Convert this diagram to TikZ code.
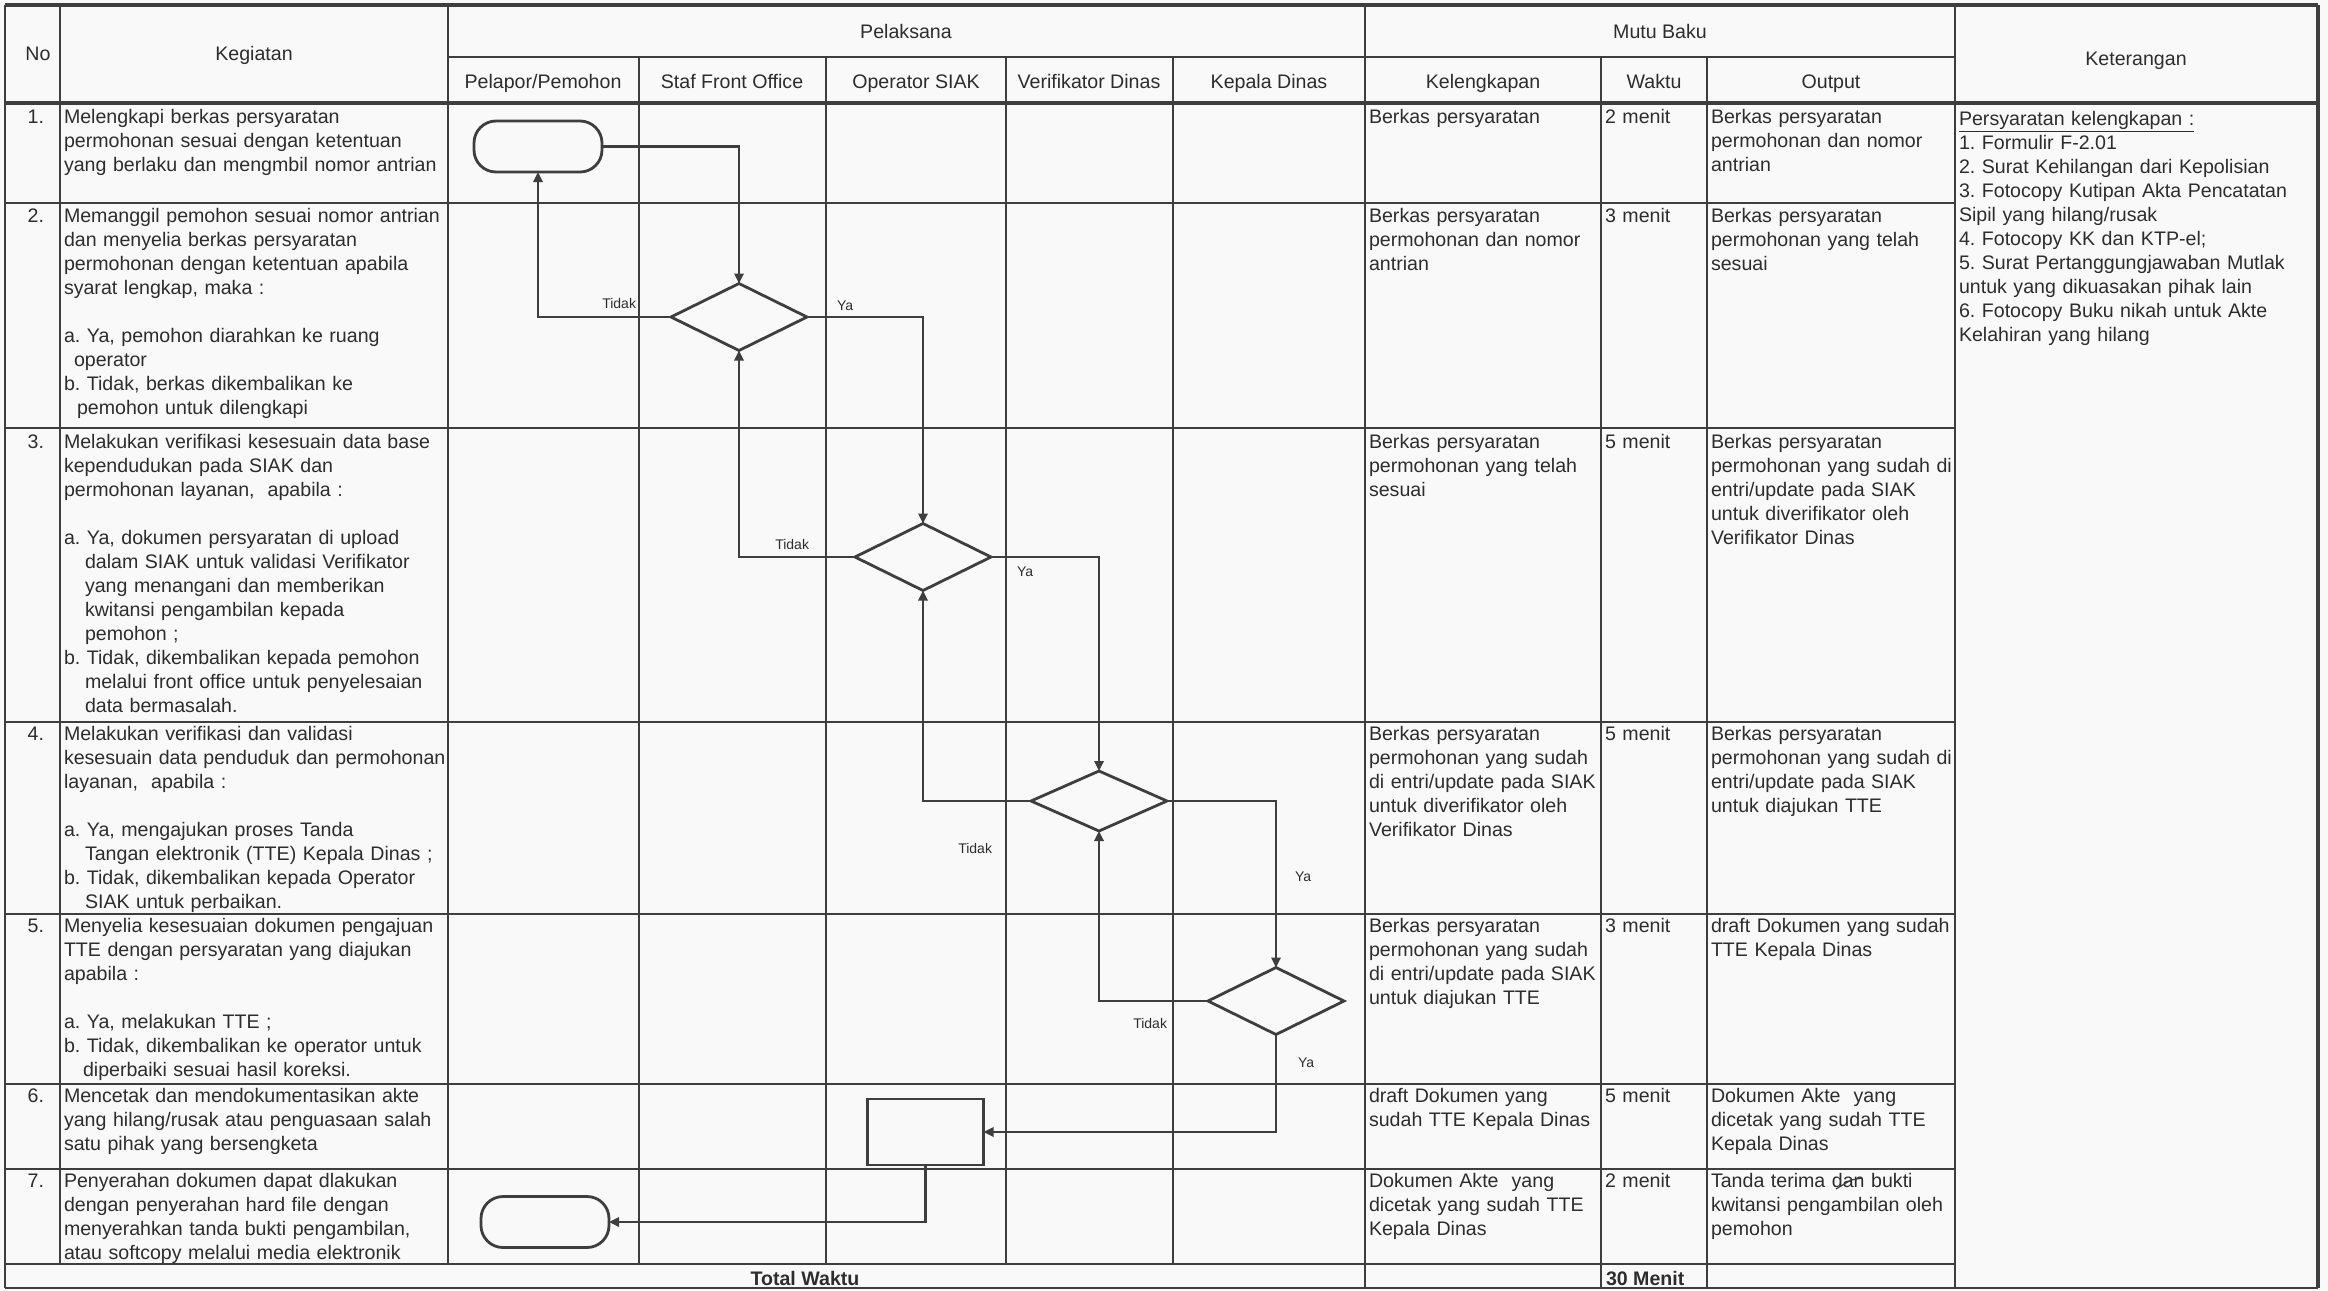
\documentclass[tikz,border=0pt]{standalone}
\usepackage{fontspec}
\setmainfont{Liberation Sans}
\usetikzlibrary{arrows.meta,shapes.geometric}
\definecolor{ink}{RGB}{62,62,62}
\definecolor{txt}{RGB}{45,45,45}
\definecolor{paper}{RGB}{249,249,249}
\frenchspacing
\begin{document}
\frenchspacing
\begin{tikzpicture}[x=0.5pt,y=-0.5pt,
  every node/.style={inner sep=0pt,outer sep=0pt,text=txt},
  thinrule/.style={draw=ink,line width=1pt},
  heavyrule/.style={draw=ink,line width=1.8pt},
  body/.style={font=\fontsize{9.8}{12}\selectfont\frenchspacing},
  cell/.style={body,anchor=base west,align=left,text width=#1},
  num/.style={body,anchor=base east},
  head/.style={body,anchor=base},
  flowline/.style={draw=ink,line width=1.4pt},
  arr/.style={flowline,-{Triangle[length=5pt,width=4.6pt]}},
  term/.style={draw=ink,line width=1.4pt,rectangle,rounded corners=11pt,minimum width=64pt,minimum height=25.5pt},
  dec/.style={draw=ink,line width=1.4pt,diamond,minimum width=68pt,minimum height=33.5pt},
  proc/.style={draw=ink,line width=1.4pt,rectangle,minimum width=58pt,minimum height=33pt},
  lbl/.style={font=\fontsize{7}{8}\selectfont}
]
\fill[paper] (0,0) rectangle (2328,1290);
\useasboundingbox (0,0) rectangle (2328,1290);

% ---------- table rules ----------
\draw[heavyrule] (5,5) -- (2318,5);
\draw[thinrule] (448,57) -- (1955,57);
\draw[heavyrule] (5,103) -- (2318,103);
\foreach \r in {203,428,722,914,1084,1169,1264} \draw[thinrule] (5,\r) -- (1955,\r);
\draw[thinrule] (5,1288) -- (2318,1288);
\draw[thinrule] (5,5) -- (5,1288);
\foreach \c in {60,448} \draw[thinrule] (\c,5) -- (\c,1264);
\foreach \c in {639,826,1006,1173} \draw[thinrule] (\c,57) -- (\c,1264);
\draw[thinrule] (1365,5) -- (1365,1288);
\foreach \c in {1601,1707} \draw[thinrule] (\c,57) -- (\c,1288);
\draw[thinrule] (1955,5) -- (1955,1288);
\draw[heavyrule] (2318,5) -- (2318,1288);

% ---------- headers ----------
\node[head] (hNo) at (38,60) {No};
\node[head] (hKeg) at (254,60) {Kegiatan};
\node[head] (hPel) at (906,38) {Pelaksana};
\node[head] (hMutu) at (1660,38) {Mutu Baku};
\node[head] (hKet) at (2136,65) {Keterangan};
\node[head] (hA) at (543,88) {Pelapor/Pemohon};
\node[head] (hB) at (732,88) {Staf Front Office};
\node[head] (hC) at (916,88) {Operator SIAK};
\node[head] (hD) at (1089,88) {Verifikator Dinas};
\node[head] (hE) at (1269,88) {Kepala Dinas};
\node[head] (hF) at (1483,88) {Kelengkapan};
\node[head] (hG) at (1654,88) {Waktu};
\node[head] (hH) at (1831,88) {Output};

% ---------- numbers ----------
\node[num] (n1) at (44,123) {1.};
\node[num] (n2) at (44,222) {2.};
\node[num] (n3) at (44,448) {3.};
\node[num] (n4) at (44,740) {4.};
\node[num] (n5) at (44,932) {5.};
\node[num] (n6) at (44,1102) {6.};
\node[num] (n7) at (44,1187) {7.};

% ---------- kegiatan ----------
\node[cell=205pt] (k1) at (64,123) {Melengkapi berkas persyaratan\\
permohonan sesuai dengan ketentuan\\
yang berlaku dan mengmbil nomor antrian};
\node[cell=205pt] (k2) at (64,222) {Memanggil pemohon sesuai nomor antrian\\
dan menyelia berkas persyaratan\\
permohonan dengan ketentuan apabila\\
syarat lengkap, maka :\\[12pt]
a. Ya, pemohon diarahkan ke ruang\\
\hspace*{5pt}operator\\
b. Tidak, berkas dikembalikan ke\\
\hspace*{6.5pt}pemohon untuk dilengkapi};
\node[cell=205pt] (k3) at (64,448) {Melakukan verifikasi kesesuain data base\\
kependudukan pada SIAK dan\\
permohonan layanan,\ \ apabila :\\[12pt]
a. Ya, dokumen persyaratan di upload\\
\hspace*{10.5pt}dalam SIAK untuk validasi Verifikator\\
\hspace*{10.5pt}yang menangani dan memberikan\\
\hspace*{10.5pt}kwitansi pengambilan kepada\\
\hspace*{10.5pt}pemohon ;\\
b. Tidak, dikembalikan kepada pemohon\\
\hspace*{10.5pt}melalui front office untuk penyelesaian\\
\hspace*{10.5pt}data bermasalah.};
\node[cell=205pt] (k4) at (64,740) {Melakukan verifikasi dan validasi\\
kesesuain data penduduk dan permohonan\\
layanan,\ \ apabila :\\[12pt]
a. Ya, mengajukan proses Tanda\\
\hspace*{10.5pt}Tangan elektronik (TTE) Kepala Dinas ;\\
b. Tidak, dikembalikan kepada Operator\\
\hspace*{10.5pt}SIAK untuk perbaikan.};
\node[cell=205pt] (k5) at (64,932) {Menyelia kesesuaian dokumen pengajuan\\
TTE dengan persyaratan yang diajukan\\
apabila :\\[12pt]
a. Ya, melakukan TTE ;\\
b. Tidak, dikembalikan ke operator untuk\\
\hspace*{9.5pt}diperbaiki sesuai hasil koreksi.};
\node[cell=205pt] (k6) at (64,1102) {Mencetak dan mendokumentasikan akte\\
yang hilang/rusak atau penguasaan salah\\
satu pihak yang bersengketa};
\node[cell=205pt] (k7) at (64,1187) {Penyerahan dokumen dapat dlakukan\\
dengan penyerahan hard file dengan\\
menyerahkan tanda bukti pengambilan,\\
atau softcopy melalui media elektronik};

% ---------- kelengkapan ----------
\node[cell=130pt] (kl1) at (1369,123) {Berkas persyaratan};
\node[cell=130pt] (kl2) at (1369,222) {Berkas persyaratan\\permohonan dan nomor\\antrian};
\node[cell=130pt] (kl3) at (1369,448) {Berkas persyaratan\\permohonan yang telah\\sesuai};
\node[cell=130pt] (kl4) at (1369,740) {Berkas persyaratan\\permohonan yang sudah\\di entri/update pada SIAK\\untuk diverifikator oleh\\Verifikator Dinas};
\node[cell=130pt] (kl5) at (1369,932) {Berkas persyaratan\\permohonan yang sudah\\di entri/update pada SIAK\\untuk diajukan TTE};
\node[cell=130pt] (kl6) at (1369,1102) {draft Dokumen yang\\sudah TTE Kepala Dinas};
\node[cell=130pt] (kl7) at (1369,1187) {Dokumen Akte\ \ yang\\dicetak yang sudah TTE\\Kepala Dinas};

% ---------- waktu ----------
\node[cell=48pt] (w1) at (1605,123) {2 menit};
\node[cell=48pt] (w2) at (1605,222) {3 menit};
\node[cell=48pt] (w3) at (1605,448) {5 menit};
\node[cell=48pt] (w4) at (1605,740) {5 menit};
\node[cell=48pt] (w5) at (1605,932) {3 menit};
\node[cell=48pt] (w6) at (1605,1102) {5 menit};
\node[cell=48pt] (w7) at (1605,1187) {2 menit};

% ---------- output ----------
\node[cell=135pt] (o1) at (1711,123) {Berkas persyaratan\\permohonan dan nomor\\antrian};
\node[cell=135pt] (o2) at (1711,222) {Berkas persyaratan\\permohonan yang telah\\sesuai};
\node[cell=135pt] (o3) at (1711,448) {Berkas persyaratan\\permohonan yang sudah di\\entri/update pada SIAK\\untuk diverifikator oleh\\Verifikator Dinas};
\node[cell=135pt] (o4) at (1711,740) {Berkas persyaratan\\permohonan yang sudah di\\entri/update pada SIAK\\untuk diajukan TTE};
\node[cell=135pt] (o5) at (1711,932) {draft Dokumen yang sudah\\TTE Kepala Dinas};
\node[cell=135pt] (o6) at (1711,1102) {Dokumen Akte\ \ yang\\dicetak yang sudah TTE\\Kepala Dinas};
\node[cell=135pt] (o7) at (1711,1187) {Tanda terima dan bukti\\kwitansi pengambilan oleh\\pemohon};
\draw[ink,line width=0.6pt] (1836,1189) -- (1851,1180) -- (1862,1178);

% ---------- keterangan ----------
\node[cell=178pt] (ket) at (1959,125) {\underline{Persyaratan kelengkapan :}\\
1. Formulir F-2.01\\
2. Surat Kehilangan dari Kepolisian\\
3. Fotocopy Kutipan Akta Pencatatan\\
Sipil yang hilang/rusak\\
4. Fotocopy KK dan KTP-el;\\
5. Surat Pertanggungjawaban Mutlak\\
untuk yang dikuasakan pihak lain\\
6. Fotocopy Buku nikah untuk Akte\\
Kelahiran yang hilang};

% ---------- total ----------
\node[body,font=\fontsize{9.8}{12}\selectfont\bfseries,anchor=base] (tot) at (805,1285) {Total Waktu};
\node[body,font=\fontsize{9.8}{12}\selectfont\bfseries,anchor=base west] (totw) at (1606,1285) {30 Menit};

% ---------- flowchart ----------
\node[term] (T1) at (538,146.5) {};
\node[dec] (D1) at (739,317) {};
\node[dec] (D2) at (923,557) {};
\node[dec,minimum height=30pt] (D3) at (1099,801) {};
\node[dec] (D4) at (1276,1001) {};
\node[proc] (P) at (925.5,1132) {};
\node[term] (T2) at (545,1222) {};

\draw[arr] (T1.east) -| (D1.north);
\draw[arr] (D1.west) -| (T1.south);
\draw[arr] (D1.east) -| (D2.north);
\draw[arr] (D2.west) -| (D1.south);
\draw[arr] (D2.east) -| (D3.north);
\draw[arr] (D3.west) -| (D2.south);
\draw[arr] (D3.east) -| (D4.north);
\draw[arr] (D4.west) -| (D3.south);
\draw[arr] (D4.south) |- (P.east);
\draw[arr] (P.south) |- (T2.east);

\node[lbl,anchor=east] (lt1) at (636,303) {Tidak};
\node[lbl,anchor=west] (ly1) at (837,306) {Ya};
\node[lbl,anchor=east] (lt2) at (809,544) {Tidak};
\node[lbl,anchor=west] (ly2) at (1017,572) {Ya};
\node[lbl,anchor=east] (lt3) at (992,848) {Tidak};
\node[lbl,anchor=west] (ly3) at (1295,877) {Ya};
\node[lbl,anchor=east] (lt4) at (1167,1023) {Tidak};
\node[lbl,anchor=west] (ly4) at (1298,1063) {Ya};
\end{tikzpicture}
\end{document}
